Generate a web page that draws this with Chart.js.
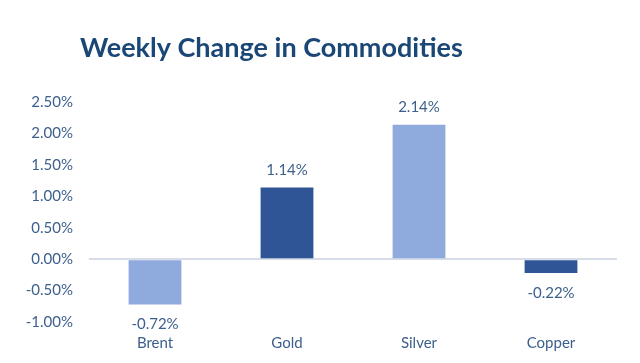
<!DOCTYPE html>
<html>
<head>
<meta charset="utf-8">
<script src="https://cdn.jsdelivr.net/npm/chart.js@4.4.1/dist/chart.umd.min.js"></script>
<style>
  html, body { margin: 0; padding: 0; background: #ffffff; }
  #wrap { width: 640px; height: 363px; position: relative; }
</style>
</head>
<body>
<div id="wrap"><canvas id="chart"></canvas></div>
<script>
// Dados
const categories = ['Brent', 'Gold', 'Silver', 'Copper'];
const weeklyChange = [-0.72, 1.14, 2.14, -0.22];
const barColors = ['#8faadc', '#2f5597', '#8faadc', '#2f5597'];
const titleText = 'Weekly Change in Commodities';

const FONT = 'Lato, "Open Sans", sans-serif';
const TEXT_BLUE = '#3d5f8c';

// Titulo desenhado a esquerda, como no original
const titlePlugin = {
    id: 'leftTitle',
    afterDraw(chart) {
        const ctx = chart.ctx;
        ctx.save();
        ctx.font = 'bold 27px ' + FONT;
        ctx.fillStyle = '#1a4775';
        ctx.textAlign = 'left';
        ctx.textBaseline = 'middle';
        ctx.fillText(titleText, 80, 48);
        ctx.restore();
    }
};

// Rotulos de valor acima / abaixo das barras
const valueLabels = {
    id: 'valueLabels',
    afterDatasetsDraw(chart) {
        const ctx = chart.ctx;
        const meta = chart.getDatasetMeta(0);
        ctx.save();
        ctx.font = '15px ' + FONT;
        ctx.fillStyle = TEXT_BLUE;
        ctx.textAlign = 'center';
        ctx.textBaseline = 'middle';
        meta.data.forEach((bar, i) => {
            const v = weeklyChange[i];
            const txt = v.toFixed(2) + '%';
            const y = v >= 0 ? bar.y - 17 : bar.y + 20;
            ctx.fillText(txt, bar.x, y);
        });
        ctx.restore();
    }
};

new Chart(document.getElementById('chart'), {
    type: 'bar',
    data: {
        labels: categories,
        datasets: [{
            data: weeklyChange,
            backgroundColor: barColors,
            borderWidth: 0,
            categoryPercentage: 1,
            barPercentage: 0.4
        }]
    },
    options: {
        responsive: true,
        maintainAspectRatio: false,
        animation: false,
        layout: { padding: { top: 102, right: 23, bottom: 12, left: 0 } },
        plugins: {
            legend: { display: false },
            tooltip: { enabled: false }
        },
        scales: {
            x: {
                afterFit(scale) { scale.height = 29; },
                grid: { display: false, drawTicks: false },
                border: { display: false },
                ticks: { color: TEXT_BLUE, font: { family: FONT, size: 15 }, padding: 12 }
            },
            y: {
                min: -1,
                max: 2.5,
                afterFit(scale) { scale.width = 89; },
                border: { display: false },
                grid: {
                    drawTicks: false,
                    lineWidth: 2,
                    color: c => c.tick && c.tick.value === 0 ? '#d6dde9' : 'rgba(0,0,0,0)'
                },
                ticks: {
                    stepSize: 0.5,
                    padding: 16,
                    color: TEXT_BLUE,
                    font: { family: FONT, size: 15 },
                    callback: v => v.toFixed(2) + '%'
                }
            }
        }
    },
    plugins: [titlePlugin, valueLabels]
});
</script>
</body>
</html>
